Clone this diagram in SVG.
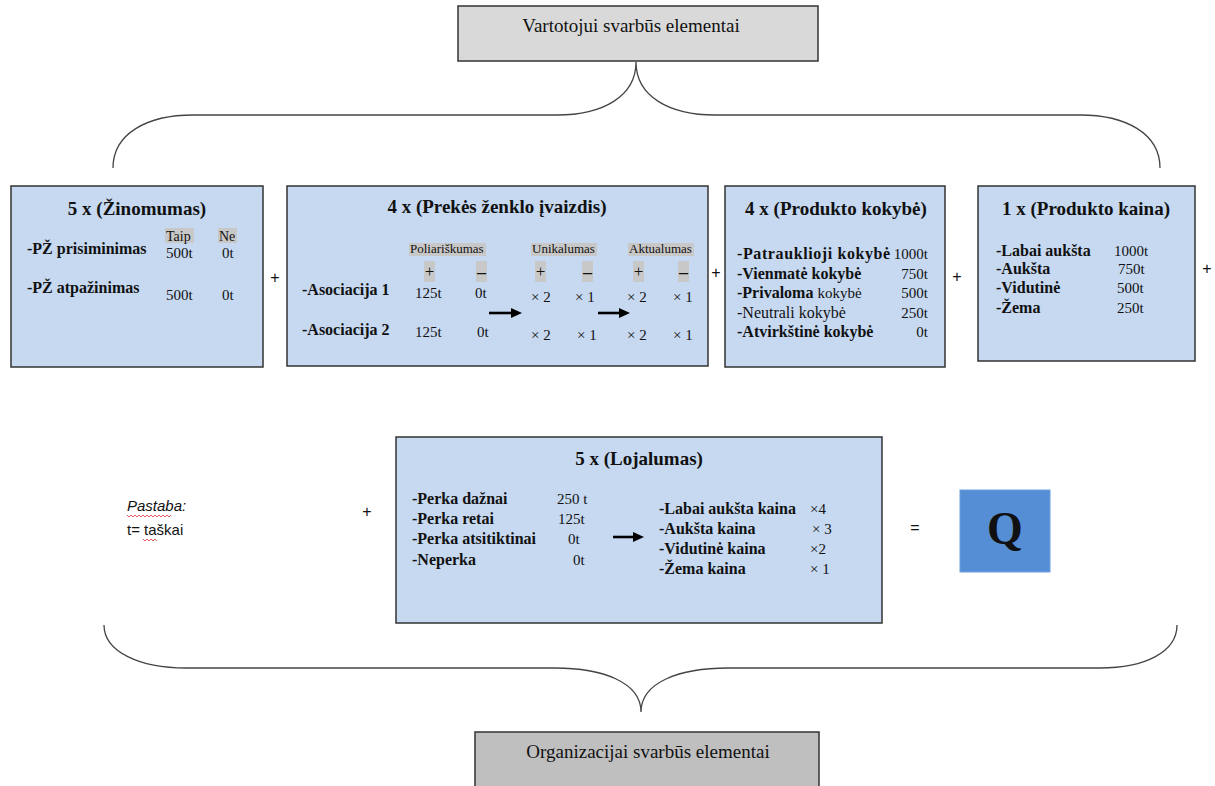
<svg xmlns="http://www.w3.org/2000/svg" width="1215" height="786" viewBox="0 0 1215 786">
<defs>
<marker id="ah" markerWidth="11" markerHeight="10" refX="0" refY="5" orient="auto" markerUnits="userSpaceOnUse">
<path d="M0,0 L11,5 L0,10 z" fill="#000"/>
</marker>
<style>
.box{fill:#c6d9f1;stroke:#333;stroke-width:1.5}
.t{font-family:"Liberation Serif","Times New Roman",serif;fill:#111}
.title{font-size:19px;font-weight:bold;text-anchor:middle}
.b{font-weight:bold;font-size:16px}
.n{font-size:15px;font-weight:normal}
.h{font-size:13px}
.hl{fill:#c8c8c8}
.e{text-anchor:end}
.brace{fill:none;stroke:#444;stroke-width:1.3}
.arr{stroke:#000;stroke-width:2.6;fill:none;marker-end:url(#ah)}
.op{font-family:"Liberation Sans",Arial,sans-serif;font-size:16px;fill:#111;text-anchor:middle}
.sq{fill:none;stroke:#e03030;stroke-width:0.8}
</style>
</defs>
<rect width="1215" height="786" fill="#fff"/>

<g id="top-node">
<rect x="458" y="6" width="360" height="55" fill="#d9d9d9" stroke="#333" stroke-width="1.5"/>
<text class="t" x="631" y="32" font-size="19" text-anchor="middle">Vartotojui svarbūs elementai</text>
</g>

<g id="bottom-node">
<rect x="475" y="732" width="344" height="60" fill="#bfbfbf" stroke="#333" stroke-width="1.5"/>
<text class="t" x="648" y="758" font-size="19" text-anchor="middle">Organizacijai svarbūs elementai</text>
</g>

<g id="zinomumas">
<rect class="box" x="11" y="186" width="252" height="181"/>
<text class="t title" x="137" y="215">5 x (Žinomumas)</text>
<rect class="hl" x="165" y="228" width="29" height="15"/>
<rect class="hl" x="218" y="228" width="19" height="15"/>
<text class="t" x="166" y="241" font-size="14">Taip</text>
<text class="t" x="219" y="241" font-size="14">Ne</text>
<text class="t b" x="27" y="254">-PŽ prisiminimas</text>
<text class="t n" x="166" y="258">500t</text>
<text class="t n" x="222" y="258">0t</text>
<text class="t b" x="27" y="293">-PŽ atpažinimas</text>
<text class="t n" x="166" y="300">500t</text>
<text class="t n" x="222" y="300">0t</text>
</g>

<g id="prekes-zenklo-ivaizdis">
<rect class="box" x="287" y="186" width="421" height="180"/>
<text class="t title" x="497" y="213">4 x (Prekės ženklo įvaizdis)</text>
<rect class="hl" x="409" y="243" width="77" height="13"/>
<rect class="hl" x="531" y="243" width="66" height="13"/>
<rect class="hl" x="628" y="243" width="66" height="13"/>
<text class="t h" x="410" y="253">Poliariškumas</text>
<text class="t h" x="532" y="253">Unikalumas</text>
<text class="t h" x="629" y="253">Aktualumas</text>
<rect class="hl" x="424" y="261" width="11" height="21"/>
<rect class="hl" x="476" y="261" width="11" height="21"/>
<rect class="hl" x="535" y="261" width="11" height="21"/>
<rect class="hl" x="582" y="261" width="11" height="21"/>
<rect class="hl" x="633" y="261" width="11" height="21"/>
<rect class="hl" x="678" y="261" width="11" height="21"/>
<g class="t" font-size="17" text-anchor="middle">
<text x="429.5" y="277">+</text>
<text x="540.5" y="277">+</text>
<text x="638.5" y="277">+</text>
</g>
<g class="t" font-size="18" font-weight="bold" text-anchor="middle">
<text x="481.5" y="278">–</text>
<text x="587.5" y="278">–</text>
<text x="683.5" y="278">–</text>
</g>
<text class="t b" x="302" y="295" font-size="17">-Asociacija 1</text>
<text class="t n" x="415" y="298" font-size="16">125t</text>
<text class="t n" x="475" y="298" font-size="16">0t</text>
<text class="t n" x="531" y="302" font-size="16">× 2</text>
<text class="t n" x="575" y="302" font-size="16">×  1</text>
<text class="t n" x="627" y="302" font-size="16">× 2</text>
<text class="t n" x="673" y="302" font-size="16">×  1</text>
<text class="t b" x="302" y="335" font-size="17">-Asociacija 2</text>
<text class="t n" x="415" y="337" font-size="16">125t</text>
<text class="t n" x="477" y="337" font-size="16">0t</text>
<text class="t n" x="531" y="340" font-size="16">× 2</text>
<text class="t n" x="577" y="340" font-size="16">× 1</text>
<text class="t n" x="627" y="340" font-size="16">× 2</text>
<text class="t n" x="673" y="340" font-size="16">× 1</text>
</g>

<g id="produkto-kokybe">
<rect class="box" x="725" y="186" width="220" height="181"/>
<text class="t title" x="836" y="215">4 x (Produkto kokybė)</text>
<text class="t b" x="737" y="259" letter-spacing="0.6">-Patrauklioji kokybė</text>
<text class="t n e" x="928" y="259">1000t</text>
<text class="t b" x="737" y="279">-Vienmatė kokybė</text>
<text class="t n e" x="928" y="279">750t</text>
<text class="t b" x="737" y="298">-Privaloma <tspan class="n" font-size="16">kokybė</tspan></text>
<text class="t n e" x="928" y="298">500t</text>
<text class="t" x="737" y="318" font-size="16">-Neutrali kokybė</text>
<text class="t n e" x="928" y="318">250t</text>
<text class="t b" x="737" y="337">-Atvirkštinė kokybė</text>
<text class="t n e" x="928" y="337">0t</text>
</g>

<g id="produkto-kaina">
<rect class="box" x="978" y="186" width="217" height="175"/>
<text class="t title" x="1086" y="215">1 x (Produkto kaina)</text>
<text class="t b" x="996" y="256">-Labai aukšta</text>
<text class="t n" x="1114" y="256">1000t</text>
<text class="t b" x="996" y="274">-Aukšta</text>
<text class="t n" x="1118" y="274">750t</text>
<text class="t b" x="996" y="293">-Vidutinė</text>
<text class="t n" x="1117" y="293">500t</text>
<text class="t b" x="996" y="313">-Žema</text>
<text class="t n" x="1117" y="313">250t</text>
</g>

<g id="lojalumas">
<rect class="box" x="396" y="437" width="486" height="186"/>
<text class="t title" x="639" y="465">5 x (Lojalumas)</text>
<text class="t b" x="412" y="504">-Perka dažnai</text>
<text class="t n" x="557" y="504">250 t</text>
<text class="t b" x="412" y="524">-Perka retai</text>
<text class="t n" x="558" y="524">125t</text>
<text class="t b" x="412" y="544">-Perka atsitiktinai</text>
<text class="t n" x="568" y="544">0t</text>
<text class="t b" x="412" y="565">-Neperka</text>
<text class="t n" x="573" y="565">0t</text>
<text class="t b" x="659" y="514">-Labai aukšta kaina</text>
<text class="t n" x="810" y="514">×4</text>
<text class="t b" x="659" y="534">-Aukšta kaina</text>
<text class="t n" x="812" y="534">× 3</text>
<text class="t b" x="659" y="554">-Vidutinė kaina</text>
<text class="t n" x="810" y="554">×2</text>
<text class="t b" x="659" y="574">-Žema kaina</text>
<text class="t n" x="810" y="574">× 1</text>
</g>

<g id="q-result">
<rect x="960" y="490" width="90" height="82" fill="#558ed5" stroke="#6e9fdc" stroke-width="1"/>
<text class="t" x="1005" y="544" font-size="46" font-weight="bold" text-anchor="middle" fill="#000">Q</text>
</g>

<g id="operators">
<text class="op" x="275" y="283">+</text>
<text class="op" x="716" y="278">+</text>
<text class="op" x="957" y="282">+</text>
<text class="op" x="1207" y="274">+</text>
<text class="op" x="367" y="517">+</text>
<text class="op" x="915" y="533">=</text>
</g>

<g id="pastaba">
<text x="127" y="511" font-family="Liberation Sans, Arial, sans-serif" font-size="15" font-style="italic" fill="#111">Pastaba:</text>
<text x="127" y="535" font-family="Liberation Sans, Arial, sans-serif" font-size="15" fill="#111">t= taškai</text>
<path class="sq" d="M127,515 l2,2 l2,-2 l2,2 l2,-2 l2,2 l2,-2 l2,2 l2,-2 l2,2 l2,-2 l2,2 l2,-2 l2,2 l2,-2 l2,2 l2,-2 l2,2 l2,-2 l2,2 l2,-2 l2,2 l2,-2"/>
<path class="sq" d="M143,539 l2,2 l2,-2 l2,2 l2,-2 l2,2 l2,-2 l2,2"/>
</g>

<g id="connectors">
<path class="brace" d="M113,168 C113,133 148,115 193,115 L557,115 C602,115 636,97 636,62 C636,97 670,115 715,115 L1080,115 C1125,115 1160,133 1160,168"/>
<path class="brace" d="M104,625 C104,652 140,668 186,668 L555,668 C602,668 641,682 641,712 C641,682 680,668 728,668 L1100,668 C1145,668 1177,652 1177,625"/>
<line class="arr" x1="489" y1="313" x2="511" y2="313"/>
<line class="arr" x1="598" y1="313" x2="619" y2="313"/>
<line class="arr" x1="613" y1="537" x2="633" y2="537"/>
</g>
</svg>
